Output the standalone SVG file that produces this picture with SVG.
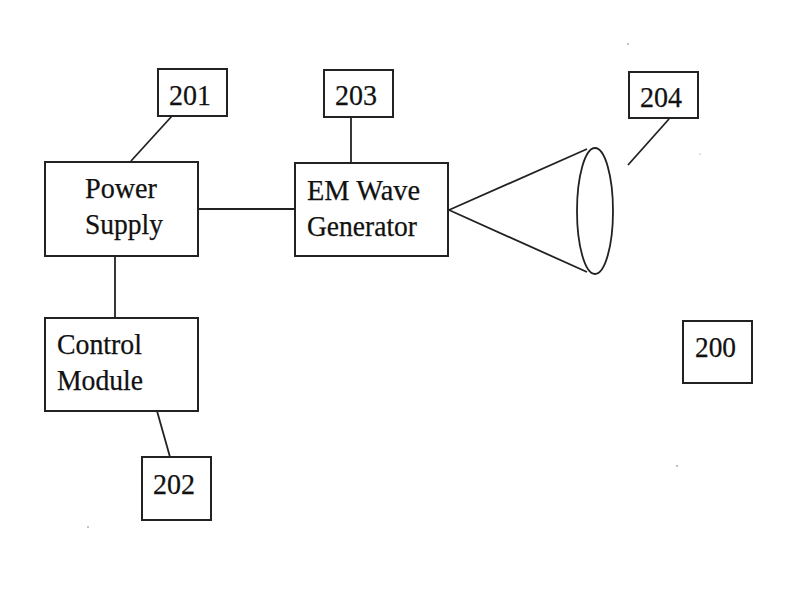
<svg xmlns="http://www.w3.org/2000/svg" width="800" height="600" viewBox="0 0 800 600">
<style>
.b{fill:#fff;stroke:#222;stroke-width:2}
.l{fill:none;stroke:#222;stroke-width:1.8}
text{font-family:"Liberation Serif",serif;font-size:29px;fill:#111;stroke:#111;stroke-width:.25}
.s{fill:#777}
</style>
<rect width="800" height="600" fill="#fff"/>
<g id="connectors">
<path class="l" d="M131 161L172 116"/>
<path class="l" d="M199 209H295"/>
<path class="l" d="M351 118V163"/>
<path class="l" d="M115 256V318"/>
<path class="l" d="M157 411L170 457"/>
<path class="l" d="M628 165L669 119"/>
</g>
<g id="n201"><rect class="b" x="158" y="69" width="69" height="47"/><text x="169" y="105" textLength="42" lengthAdjust="spacingAndGlyphs">201</text></g>
<g id="n203"><rect class="b" x="324" y="70" width="69" height="47"/><text x="335" y="105" textLength="42" lengthAdjust="spacingAndGlyphs">203</text></g>
<g id="n204"><rect class="b" x="629" y="72" width="69" height="46"/><text x="640" y="107" textLength="42" lengthAdjust="spacingAndGlyphs">204</text></g>
<g id="power"><rect class="b" x="45" y="162" width="153" height="94"/><text x="85" y="198" textLength="72" lengthAdjust="spacingAndGlyphs">Power</text><text x="85" y="234" textLength="78" lengthAdjust="spacingAndGlyphs">Supply</text></g>
<g id="generator"><rect class="b" x="295" y="163" width="153" height="93"/><text x="307" y="200" textLength="113" lengthAdjust="spacingAndGlyphs">EM Wave</text><text x="307" y="236" textLength="110" lengthAdjust="spacingAndGlyphs">Generator</text></g>
<g id="cone"><path class="l" d="M449 210L587 149M449 210L587 272"/><ellipse class="l" cx="595" cy="211" rx="18" ry="63"/></g>
<g id="control"><rect class="b" x="45" y="318" width="153" height="93"/><text x="57" y="354" textLength="85" lengthAdjust="spacingAndGlyphs">Control</text><text x="57" y="390" textLength="86" lengthAdjust="spacingAndGlyphs">Module</text></g>
<g id="n200"><rect class="b" x="683" y="321" width="69" height="62"/><text x="695" y="357" textLength="41" lengthAdjust="spacingAndGlyphs">200</text></g>
<g id="n202"><rect class="b" x="142" y="457" width="69" height="63"/><text x="153" y="494" textLength="42" lengthAdjust="spacingAndGlyphs">202</text></g>
<g id="specks"><circle class="s" cx="628" cy="44" r=".8"/><circle class="s" cx="677" cy="466" r=".8"/><circle class="s" cx="88" cy="527" r=".8"/><circle class="s" cx="700" cy="154" r=".6"/></g>
</svg>
